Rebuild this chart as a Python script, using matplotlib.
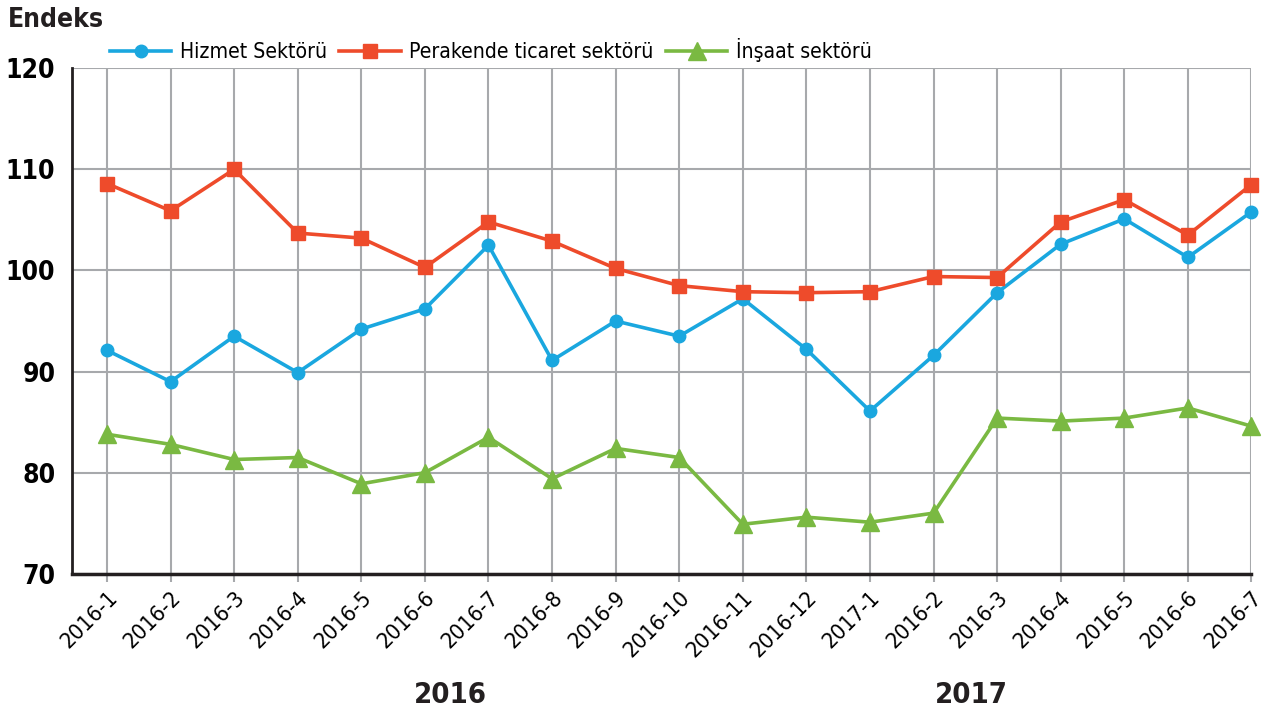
import matplotlib.pyplot as plt
from matplotlib.transforms import blended_transform_factory

plt.rcParams['font.family'] = ['DejaVu Sans']
plt.rcParams['font.stretch'] = 'condensed'

donemler = ['2016-1', '2016-2', '2016-3', '2016-4', '2016-5', '2016-6', '2016-7',
            '2016-8', '2016-9', '2016-10', '2016-11', '2016-12', '2017-1', '2016-2',
            '2016-3', '2016-4', '2016-5', '2016-6', '2016-7']

hizmet = [92.1, 89.0, 93.5, 89.9, 94.2, 96.2, 102.5, 91.1, 95.0, 93.5,
          97.2, 92.2, 86.1, 91.6, 97.8, 102.6, 105.1, 101.3, 105.8]
perakende = [108.6, 105.9, 110.0, 103.7, 103.2, 100.3, 104.8, 102.9, 100.2, 98.5,
             97.9, 97.8, 97.9, 99.4, 99.3, 104.8, 107.0, 103.5, 108.5]
insaat = [83.8, 82.8, 81.3, 81.5, 78.9, 80.0, 83.5, 79.4, 82.4, 81.5,
          74.9, 75.6, 75.1, 76.0, 85.4, 85.1, 85.4, 86.4, 84.6]

yillar = ['2016', '2017']
yil_konum = [5.4, 13.6]

fig = plt.figure(figsize=(12.77, 7.11), dpi=100)
ax = fig.add_axes([0.0564, 0.193, 0.9236, 0.711])

x = list(range(len(donemler)))
ax.plot(x, hizmet, color='#1AA7DF', lw=2.6, marker='o', ms=9, label='Hizmet Sektörü', zorder=3, clip_on=False)
ax.plot(x, perakende, color='#EE4B2B', lw=2.6, marker='s', ms=10, label='Perakende ticaret sektörü', zorder=3, clip_on=False)
ax.plot(x, insaat, color='#7AB942', lw=2.6, marker='^', ms=13, label='İnşaat sektörü', zorder=3, clip_on=False)

ax.set_xlim(-0.55, 18)
ax.set_ylim(70, 120)
ax.set_yticks([70, 80, 90, 100, 110, 120])
ax.set_xticks(x)
ax.set_xticklabels(donemler, rotation=45, ha='right', rotation_mode='anchor', fontsize=16)
for lab in ax.get_yticklabels():
    lab.set_fontweight('bold')
    lab.set_fontsize(19)

ax.grid(True, color='#A7A9AC', lw=1.5, zorder=0)
ax.tick_params(axis='x', length=6, color='#A7A9AC', width=1.5, pad=4)
ax.tick_params(axis='y', length=0, pad=12)
for s in ['top', 'right']:
    ax.spines[s].set_visible(False)
ax.spines['left'].set_linewidth(2)
ax.spines['bottom'].set_linewidth(2.5)
ax.spines['left'].set_color('#231F20')
ax.spines['bottom'].set_color('#231F20')

tr = blended_transform_factory(ax.transData, ax.transAxes)
for yil, pos in zip(yillar, yil_konum):
    ax.text(pos, -0.24, yil, transform=tr, ha='center', va='center',
            fontsize=21, fontweight='bold', color='#231F20')

fig.text(0.006, 0.972, 'Endeks', ha='left', va='center', fontsize=19, fontweight='bold', color='#231F20')

ax.legend(loc='lower left', bbox_to_anchor=(0.025, 0.995), ncol=3, frameon=False,
          fontsize=15.2, handlelength=2.9, columnspacing=0.6, handletextpad=0.4, borderaxespad=0)

fig.savefig('out.png', dpi=100)
